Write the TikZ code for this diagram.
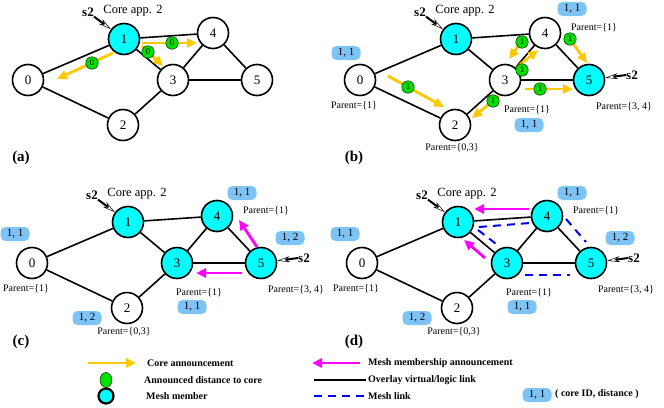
\documentclass[tikz,border=0pt]{standalone}
\usepackage{fontspec}
\setmainfont{Liberation Serif}
\usetikzlibrary{arrows.meta,calc,shapes.geometric}

\definecolor{meshcyan}{RGB}{0,255,255}
\definecolor{coreyellow}{RGB}{255,200,0}
\definecolor{distgreen}{RGB}{0,225,0}
\definecolor{tagblue}{RGB}{125,195,245}
\definecolor{joinpink}{RGB}{255,0,255}

\tikzset{
  peer/.style={draw, circle, line width=1.6pt, fill=white, minimum size=31pt,
    inner sep=0pt, font=\fontsize{13}{13}\selectfont},
  member/.style={peer, fill=meshcyan},
  link/.style={line width=1.6pt},
  meshlink/.style={draw=blue, line width=2pt, dash pattern=on 8pt off 6pt},
  corearrow/.style={draw=coreyellow, line width=2.8pt,
    -{Triangle[length=10pt,width=9pt]}},
  joinarrow/.style={draw=joinpink, line width=2.8pt,
    -{Triangle[length=10pt,width=9pt]}},
  dist/.style={draw, circle, fill=distgreen, inner sep=0pt, minimum size=12.5pt,
    font=\fontsize{9}{9}\selectfont},
  tag/.style={fill=tagblue, rounded corners=5pt, minimum width=29pt,
    minimum height=14pt, inner sep=0pt, font=\fontsize{11}{11}\selectfont},
  parent/.style={font=\fontsize{10}{10}\selectfont, inner sep=0pt},
  source/.style={font=\fontsize{13}{13}\selectfont\bfseries, inner sep=0pt},
  srcarrow/.style={line width=2pt,
    -{Stealth[open, length=13pt, width=6pt, line width=0.5pt]}},
  coreapp/.style={font=\fontsize{12.5}{12.5}\selectfont, inner sep=0pt},
  panel/.style={font=\fontsize{15}{15}\selectfont\bfseries},
  legend/.style={font=\fontsize{10}{10}\selectfont\bfseries, anchor=west, inner sep=0pt}
}

\begin{document}
\begin{tikzpicture}[x=1pt, y=-1pt]
  \useasboundingbox (0,0) rectangle (664,407);

  % (a) core announcement from the core
  \begin{scope}
    \node[peer]   (a0) at ( 28, 80) {0};
    \node[member] (a1) at (124, 39) {1};
    \node[peer]   (a2) at (123,125) {2};
    \node[peer]   (a3) at (173, 80) {3};
    \node[peer]   (a4) at (213, 33) {4};
    \node[peer]   (a5) at (257, 80) {5};

    \draw[link] (a0) -- (a1);
    \draw[link] (a0) -- (a2);
    \draw[link] (a1) -- (a4);
    \draw[link] (a1) -- (a3);
    \draw[link] (a3) -- (a4);
    \draw[link] (a4) -- (a5);
    \draw[link] (a3) -- (a5);
    \draw[link] (a2) -- (a3);

    \node[source]  (as2)  at ( 88, 12) {s2};
    \node[coreapp] (aapp) at (133, 11) {Core app. 2};
    \draw[srcarrow] (as2.south east) -- (a1);

    \draw[corearrow] (113,53) -- (57,79);
    \draw[corearrow] (142,43) -- (197,43);
    \draw[corearrow] (142,46) -- (163,66);
    \node[dist] (ad1) at ( 92,63) {0};
    \node[dist] (ad2) at (172,43) {0};
    \node[dist] (ad3) at (148,52) {0};

    \node[panel] (alab) at (21,158) {(a)};
  \end{scope}

  % (b) second hop announcements, second core candidate
  \begin{scope}[shift={(332,0)}]
    \node[peer]   (b0) at ( 28, 80) {0};
    \node[member] (b1) at (124, 39) {1};
    \node[peer]   (b2) at (123,125) {2};
    \node[peer]   (b3) at (173, 80) {3};
    \node[peer]   (b4) at (213, 33) {4};
    \node[member] (b5) at (257, 80) {5};

    \draw[link] (b0) -- (b1);
    \draw[link] (b0) -- (b2);
    \draw[link] (b1) -- (b4);
    \draw[link] (b1) -- (b3);
    \draw[link] (b3) -- (b4);
    \draw[link] (b4) -- (b5);
    \draw[link] (b3) -- (b5);
    \draw[link] (b2) -- (b3);

    \node[source]  (bs2)  at ( 88, 12) {s2};
    \node[coreapp] (bapp) at (133, 11) {Core app. 2};
    \draw[srcarrow] (bs2.south east) -- (b1);
    \node[source]  (bs5)  at (300, 75) {s2};
    \draw[srcarrow] (bs5.west) -- (b5);

    \draw[corearrow] ( 56, 76) -- (112,107);
    \draw[corearrow] (167, 96) -- (140,118);
    \draw[corearrow] (184, 68) -- (206, 50);
    \draw[corearrow] (192, 38) -- (177, 59);
    \draw[corearrow] (235, 35) -- (255, 63);
    \draw[corearrow] (193, 89) -- (241, 89);
    \node[dist] (bd1) at ( 76, 87) {1};
    \node[dist] (bd2) at (161,101) {1};
    \node[dist] (bd3) at (190, 70) {1};
    \node[dist] (bd4) at (190, 42) {1};
    \node[dist] (bd5) at (238, 39) {1};
    \node[dist] (bd6) at (208, 89) {1};

    \node[tag] (bt4) at (240,  9) {1, 1};
    \node[tag] (bt0) at ( 14, 53) {1, 1};
    \node[tag] (bt3) at (197,125) {1, 1};

    \node[parent] (bp4) at (262, 28) {Parent=\{1\}};
    \node[parent] (bp0) at ( 22,106) {Parent=\{1\}};
    \node[parent] (bp3) at (195,110) {Parent=\{1\}};
    \node[parent] (bp5) at (292,107) {Parent=\{3, 4\}};
    \node[parent] (bp2) at (120,148) {Parent=\{0,3\}};

    \node[panel] (blab) at (22,158) {(b)};
  \end{scope}

  % (c) mesh membership towards the core
  \begin{scope}[shift={(4,183)}]
    \node[peer]   (c0) at ( 28, 80) {0};
    \node[member] (c1) at (124, 39) {1};
    \node[peer]   (c2) at (123,125) {2};
    \node[member] (c3) at (173, 80) {3};
    \node[member] (c4) at (213, 33) {4};
    \node[member] (c5) at (257, 80) {5};

    \draw[link] (c0) -- (c1);
    \draw[link] (c0) -- (c2);
    \draw[link] (c1) -- (c4);
    \draw[link] (c1) -- (c3);
    \draw[link] (c3) -- (c4);
    \draw[link] (c4) -- (c5);
    \draw[link] (c3) -- (c5);
    \draw[link] (c2) -- (c3);

    \node[source]  (cs2)  at ( 88, 12) {s2};
    \node[coreapp] (capp) at (133, 11) {Core app. 2};
    \draw[srcarrow] (cs2.south east) -- (c1);
    \node[source]  (cs5)  at (300, 75) {s2};
    \draw[srcarrow] (cs5.west) -- (c5);

    \draw[joinarrow] (253,64) -- (235,37);
    \draw[joinarrow] (238,90) -- (192,90);

    \node[tag] (ct4) at (238, 10) {1, 1};
    \node[tag] (ct0) at ( 11, 51) {1, 1};
    \node[tag] (ct5) at (286, 55) {1, 2};
    \node[tag] (ct3) at (188,124) {1, 1};
    \node[tag] (ct2) at ( 83,135) {1, 2};

    \node[parent] (cp4) at (262, 28) {Parent=\{1\}};
    \node[parent] (cp0) at ( 22,106) {Parent=\{1\}};
    \node[parent] (cp3) at (195,110) {Parent=\{1\}};
    \node[parent] (cp5) at (292,107) {Parent=\{3, 4\}};
    \node[parent] (cp2) at (120,149) {Parent=\{0,3\}};

    \node[panel] (clab) at (17,159) {(c)};
  \end{scope}

  % (d) resulting mesh
  \begin{scope}[shift={(334,183)}]
    \node[peer]   (d0) at ( 28, 80) {0};
    \node[member] (d1) at (124, 39) {1};
    \node[peer]   (d2) at (123,125) {2};
    \node[member] (d3) at (173, 80) {3};
    \node[member] (d4) at (213, 33) {4};
    \node[member] (d5) at (257, 80) {5};

    \draw[link] (d0) -- (d1);
    \draw[link] (d0) -- (d2);
    \draw[link] (d1) -- (d4);
    \draw[link] (d1) -- (d3);
    \draw[link] (d3) -- (d4);
    \draw[link] (d4) -- (d5);
    \draw[link] (d3) -- (d5);
    \draw[link] (d2) -- (d3);

    \draw[meshlink] ($(d1)+(21,5)$) -- ($(d4)+(-17,7)$);
    \draw[meshlink] ($(d1)+(20,8)$) -- ($(d3)+(-7,-16)$);
    \draw[meshlink] ($(d3)+(18,12)$) -- ($(d5)+(-21,12)$);
    \draw[meshlink] ($(d4)+(19,3)$) -- ($(d5)+(-5,-21)$);

    \node[source]  (ds2)  at ( 88, 12) {s2};
    \node[coreapp] (dapp) at (133, 11) {Core app. 2};
    \draw[srcarrow] (ds2.south east) -- (d1);
    \node[source]  (ds5)  at (300, 75) {s2};
    \draw[srcarrow] (ds5.west) -- (d5);

    \draw[joinarrow] (195,26) -- (140,26);
    \draw[joinarrow] (151,75) -- (130,57);

    \node[tag] (dt4) at (238, 10) {1, 1};
    \node[tag] (dt0) at ( 11, 51) {1, 1};
    \node[tag] (dt5) at (286, 55) {1, 2};
    \node[tag] (dt3) at (188,124) {1, 1};
    \node[tag] (dt2) at ( 83,135) {1, 2};

    \node[parent] (dp4) at (262, 28) {Parent=\{1\}};
    \node[parent] (dp0) at ( 22,106) {Parent=\{1\}};
    \node[parent] (dp3) at (195,110) {Parent=\{1\}};
    \node[parent] (dp5) at (292,107) {Parent=\{3, 4\}};
    \node[parent] (dp2) at (120,149) {Parent=\{0,3\}};

    \node[panel] (dlab) at (20,159) {(d)};
  \end{scope}

  % legend
  \draw[corearrow] (88,363) -- (136,363);
  \node[legend] (lcore) at (147,363) {Core announcement};
  \node[dist, ellipse, minimum width=12pt, minimum height=15pt] (ldist) at (106,380) {};
  \node[legend] (ldistt) at (144,380) {Announced distance to core};
  \node[member, minimum size=15pt, line width=2.2pt] (lmem) at (106,396) {};
  \node[legend] (lmemt) at (146,396) {Mesh member};

  \draw[joinarrow] (360,363) -- (312,363);
  \node[legend] (ljoin) at (368,363) {Mesh membership announcement};
  \draw[link] (314,380) -- (366,380);
  \node[legend] (llink) at (368,380) {Overlay virtual/logic link};
  \draw[meshlink] (314,396) -- (366,396);
  \node[legend] (lmesh) at (368,396) {Mesh link};

  \node[tag] (ltag) at (537,395) {1, 1};
  \node[legend] (ltagt) at (555,394) {( core ID, distance )};
\end{tikzpicture}
\end{document}
